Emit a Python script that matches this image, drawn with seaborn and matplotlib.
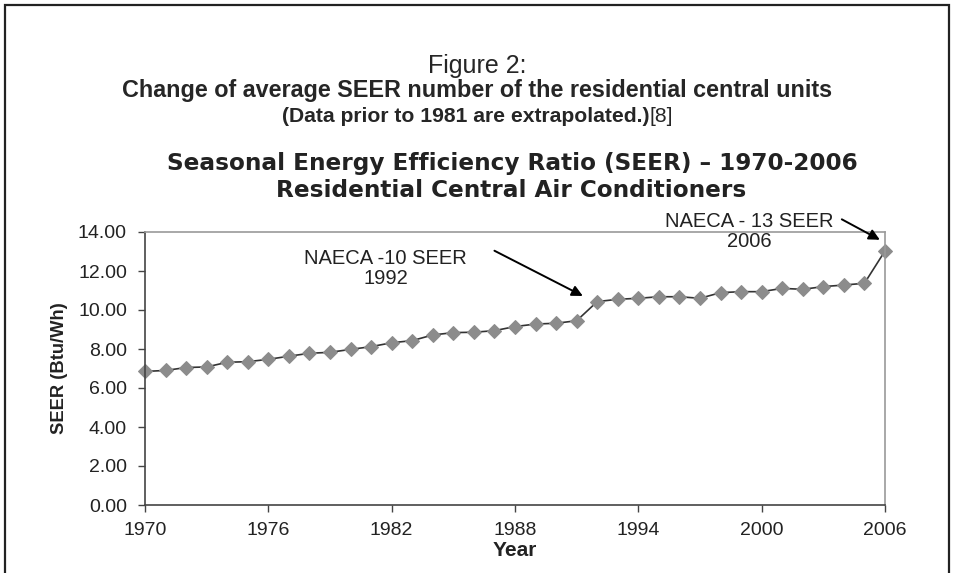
import numpy as np
import pandas as pd
import seaborn as sns
import matplotlib.pyplot as plt
from matplotlib.patches import Rectangle

# Data
years = list(range(1970, 2007))
seer = [6.85, 6.90, 7.05, 7.08, 7.32, 7.35, 7.47, 7.63, 7.78, 7.83,
        7.98, 8.12, 8.32, 8.43, 8.72, 8.84, 8.86, 8.94, 9.15, 9.28,
        9.32, 9.45, 10.43, 10.55, 10.60, 10.68, 10.68, 10.60, 10.89, 10.94,
        10.94, 11.11, 11.06, 11.20, 11.28, 11.37, 13.03]
xticks = [1970, 1976, 1982, 1988, 1994, 2000, 2006]
yticks = [0, 2, 4, 6, 8, 10, 12, 14]

df = pd.DataFrame({'Year': years, 'SEER': seer})

sns.set_style("white")
plt.rcParams['font.family'] = ['Liberation Sans', 'DejaVu Sans']

fig = plt.figure(figsize=(9.54, 5.73), dpi=100)
ax = fig.add_axes([145 / 954, 1 - 505 / 573, 740 / 954, 273 / 573])

# outer frame of the page
fig.patches.append(Rectangle((5 / 954, -0.05), 944 / 954, 1.05 - 5 / 573,
                             transform=fig.transFigure, fill=False,
                             edgecolor='#222222', linewidth=1.6))

sns.lineplot(data=df, x='Year', y='SEER', ax=ax, color='#333333', linewidth=1.2,
             marker='D', markersize=7, markerfacecolor='#8c8c8c',
             markeredgecolor='#8c8c8c', clip_on=False)

ax.set_xlim(1970, 2006)
ax.set_ylim(0, 14)
ax.set_xticks(xticks)
ax.set_yticks(yticks)
ax.set_yticklabels([f"{v:.2f}" for v in yticks])
ax.tick_params(axis='both', direction='out', length=5, width=1, color='#444444',
               labelsize=14, left=True, bottom=True, labelcolor='#222222')
ax.tick_params(axis='y', pad=8)
ax.tick_params(axis='x', pad=7)
for s in ['left', 'bottom']:
    ax.spines[s].set_color('#444444')
    ax.spines[s].set_linewidth(1.2)
for s in ['top', 'right']:
    ax.spines[s].set_color('#9a9a9a')
    ax.spines[s].set_linewidth(1.2)

ax.set_xlabel('Year', fontsize=15, fontweight='bold', labelpad=2, color='#222222')
ax.set_ylabel('SEER (Btu/Wh)', fontsize=13.2, fontweight='bold', labelpad=7,
              color='#222222')

# annotations
arrow = dict(arrowstyle='-|>', color='black', lw=1.4, mutation_scale=16,
             shrinkA=0, shrinkB=0)
ax.annotate('', xy=(1991.3, 10.72), xytext=(1987.0, 13.04), arrowprops=arrow)
ax.annotate('', xy=(2005.75, 13.6), xytext=(2003.9, 14.65), arrowprops=arrow,
            annotation_clip=False)
ax.text(1981.7, 12.13, 'NAECA -10 SEER\n1992', fontsize=14.5, ha='center',
        va='center', linespacing=1.1, color='#222222')
ax.text(1999.4, 14.03, 'NAECA - 13 SEER\n2006', fontsize=14.5, ha='center',
        va='center', linespacing=1.1, color='#222222', clip_on=False)

# chart title
title_font = ['DejaVu Sans', 'Liberation Sans']
fig.text(512 / 954, 1 - 164 / 573, 'Seasonal Energy Efficiency Ratio (SEER) \u2013 1970-2006',
         ha='center', va='center', fontsize=16.7, fontweight='bold', color='#222222',
         family=title_font)
fig.text(511 / 954, 1 - 191 / 573, 'Residential Central Air Conditioners',
         ha='center', va='center', fontsize=16.7, fontweight='bold', color='#222222',
         family=title_font)

# document heading
fig.text(0.5, 1 - 66 / 573, 'Figure 2:', ha='center', va='center', fontsize=18)
fig.text(0.5, 1 - 90 / 573, 'Change of average SEER number of the residential central units',
         ha='center', va='center', fontsize=16.8, fontweight='bold')
t = fig.text(466 / 954, 1 - 117 / 573, '(Data prior to 1981 are extrapolated.)',
             ha='center', va='center', fontsize=15.2, fontweight='bold')
ax.annotate('[8]', xy=(1, 0), xycoords=t, ha='left', va='bottom', fontsize=15.2)

fig.savefig('out.png', dpi=100)
